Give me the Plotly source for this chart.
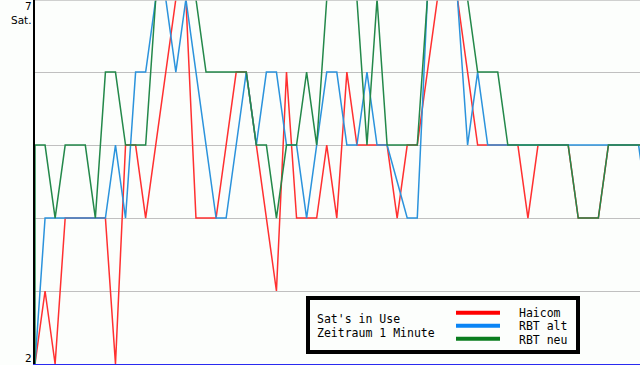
import plotly.graph_objects as go

# ---- data (one sample per step, "Sat's in Use") ----
haicom = [2, 3, 2, 4, 4, 4, 4, 4, 2, 5,
          5, 4, 5, 6, 7, 7, 4, 4, 4, 5,
          6, 6, 5, 4, 3, 6, 4, 4, 4, 5,
          4, 6, 5, 5, 5, 5, 4, 5, 5, 6,
          7, 7, 7, 6, 5, 5, 5, 5, 5, 4,
          5, 5, 5, 5, 4, 4, 4, 5, 5, 5,
          5, 5]
rbt_alt = [2, 4, 4, 4, 4, 4, 4, 4, 5, 4,
           6, 6, 7, 7, 6, 7, 6, 5, 4, 4,
           5, 6, 5, 6, 6, 5, 5, 4, 5, 6,
           6, 5, 5, 6, 5, 5, 4.5, 4, 4, 7,
           7, 7, 7, 5, 6, 5, 5, 5, 5, 5,
           5, 5, 5, 5, 5, 5, 5, 5, 5, 5,
           5, 4]
rbt_neu_start = 2
rbt_neu = [5, 5, 4, 5, 5, 5, 4, 6, 6, 5,
           5, 5, 7, 7, 7, 7, 7, 6, 6, 6,
           6, 6, 5, 5, 4, 5, 5, 6, 5, 7,
           7, 7, 7, 5, 7, 5, 5, 5, 5, 7,
           7, 7, 7, 7, 6, 6, 6, 5, 5, 5,
           5, 5, 5, 5, 4, 4, 4, 5, 5, 5,
           5, 5]
steps = list(range(len(haicom)))
y_ticks = [2, 3, 4, 5, 6, 7]
y_labels = ["2", "", "", "", "", "7"]
series_names = ["Haicom", "RBT alt", "RBT neu"]
title_lines = ["Sat's in Use", "Zeitraum 1 Minute"]

# ---- geometry helpers (pixel -> paper) ----
W, H = 640, 365
L, R, T, B = 35, 0, 0, 1
PW, PH = W - L - R, H - T - B


def px(x):
    return (x - L) / PW


def py(y):
    return (H - B - y) / PH


fig = go.Figure()
line_cols = ["#ff3030", "#2b93dc", "#23884a"]
legend_cols = ["#ff0000", "#0a84f5", "#0a7d1e"]

fig.add_trace(go.Scatter(x=steps, y=haicom, mode="lines", name=series_names[0],
                         line=dict(color=line_cols[0], width=1.5)))
fig.add_trace(go.Scatter(x=steps, y=rbt_alt, mode="lines", name=series_names[1],
                         line=dict(color=line_cols[1], width=1.5)))
fig.add_trace(go.Scatter(x=[0] + steps, y=[rbt_neu_start] + rbt_neu, mode="lines",
                         name=series_names[2],
                         line=dict(color=line_cols[2], width=1.5)))

shapes = [
    # top grid line (the value-7 line sits just outside the clipped area)
    dict(type="line", xref="paper", yref="paper", x0=0, x1=1, y0=1, y1=1,
         line=dict(color="#c0c0c0", width=1.5), layer="above"),
    dict(type="rect", xref="paper", yref="paper",
         x0=px(308), x1=px(578), y0=py(352), y1=py(298),
         line=dict(color="black", width=4), fillcolor="#fcfefc", layer="above"),
]
annotations = [
    dict(text="7", x=px(33.5), y=py(6), xanchor="right", yanchor="middle"),
    dict(text="Sat.", x=px(33.5), y=py(19.5), xanchor="right", yanchor="middle"),
    dict(text="2", x=px(33.5), y=py(358), xanchor="right", yanchor="middle"),
]
for a in annotations:
    a.update(xref="paper", yref="paper", showarrow=False,
             font=dict(family="DejaVu Sans", size=10.5, color="black"))

mono = dict(family="DejaVu Sans Mono", size=11.5, color="black")
for k, t in enumerate(title_lines):
    annotations.append(dict(text=t, x=px(315), y=py(319 + 14 * k), xref="paper", yref="paper",
                            xanchor="left", yanchor="middle", showarrow=False, font=mono))
for k, (n, c) in enumerate(zip(series_names, legend_cols)):
    yy = py(312.7 + 13 * k)
    shapes.append(dict(type="line", xref="paper", yref="paper",
                       x0=px(456), x1=px(500), y0=yy, y1=yy,
                       line=dict(color=c, width=4), layer="above"))
    annotations.append(dict(text=n, x=px(517), y=py(313 + 13.3 * k), xref="paper", yref="paper",
                            xanchor="left", yanchor="middle", showarrow=False, font=mono))

fig.update_layout(
    width=W, height=H,
    margin=dict(l=L, r=R, t=T, b=B, pad=0),
    paper_bgcolor="#fcfefc", plot_bgcolor="#fcfefc",
    showlegend=False,
    shapes=shapes, annotations=annotations,
    xaxis=dict(range=[0, PW / 10.06], showgrid=False, zeroline=False,
               showticklabels=False, ticks="", showline=True,
               linecolor="#2a2af0", linewidth=1.5, fixedrange=True),
    yaxis=dict(range=[2, 6.988], tickvals=y_ticks, ticktext=y_labels,
               showticklabels=False, gridcolor="#c0c0c0", gridwidth=1,
               zeroline=False, showline=True, linecolor="black", linewidth=1.5,
               ticks="", fixedrange=True),
)

fig.write_html("out.html", config={"displayModeBar": False})
